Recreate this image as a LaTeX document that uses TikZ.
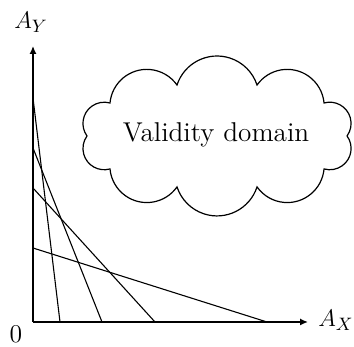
\documentclass[tikz,border=0pt]{standalone}
\usetikzlibrary{arrows.meta}
\begin{document}
\begin{tikzpicture}[x=0.5pt,y=0.5pt,
  axis/.style={line width=0.8pt,-{Latex[length=4pt,width=3.6pt]}},
  ray/.style={line width=0.55pt},
  cloudline/.style={line width=0.6pt},
  lbl/.style={font=\fontsize{12.8}{15}\selectfont, inner sep=0pt}]
\useasboundingbox (0,0) rectangle (354,347);
% axes
\coordinate (O) at (33,25);
\coordinate (Xtip) at (308,25);
\coordinate (Ytip) at (33,301);
\draw[axis] (O) -- (Xtip);
\draw[axis] (O) -- (Ytip);
% labels
\node[lbl] (ay) at (31,325) {$A_Y$};
\node[lbl] (ax) at (336,27) {$A_X$};
\node[lbl, anchor=south] (zero) at (16,4) {0};
% rays
\coordinate (y1) at (33,249); \coordinate (x1) at (60,25);
\coordinate (y2) at (33,199); \coordinate (x2) at (102,25);
\coordinate (y3) at (33,159); \coordinate (x3) at (155,25);
\coordinate (y4) at (33,99);  \coordinate (x4) at (267,25);
\draw[ray] (y1) -- (x1);
\draw[ray] (y2) -- (x2);
\draw[ray] (y3) -- (x3);
\draw[ray] (y4) -- (x4);
% cloud
\begin{scope}[shift={(217,211)}]
\draw[cloudline] (-107,33)
  arc[start angle=174.8,end angle=35.2,radius=36.96]
  arc[start angle=161.9,end angle=18.1,radius=42.1]
  arc[start angle=144.8,end angle=5.2,radius=36.96]
  arc[start angle=105.7,end angle=-35.9,radius=21.29]
  arc[start angle=35.9,end angle=-105.7,radius=21.29]
  arc[start angle=-5.2,end angle=-144.8,radius=36.96]
  arc[start angle=-18.1,end angle=-161.9,radius=42.1]
  arc[start angle=-35.2,end angle=-174.8,radius=36.96]
  arc[start angle=285.7,end angle=144.1,radius=21.29]
  arc[start angle=215.9,end angle=74.3,radius=21.29] -- cycle;
\end{scope}
\node[lbl, font=\fontsize{13.6}{16}\selectfont, anchor=base] (vd) at (216,205) {Validity domain};
\end{tikzpicture}
\end{document}
